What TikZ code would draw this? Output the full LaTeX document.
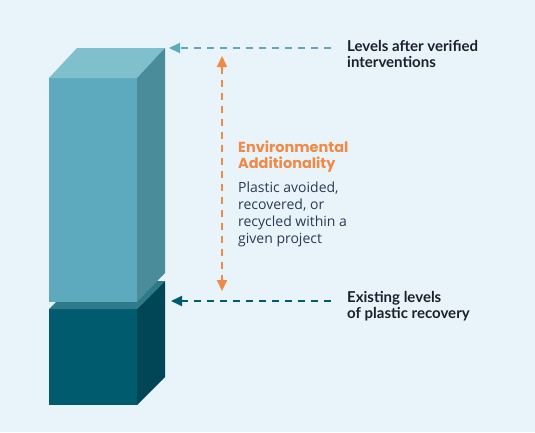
\documentclass[tikz,border=0pt]{standalone}
\usepackage{fontspec}
\setmainfont{Lato}
\newfontfamily\headfont{Poppins}
\newfontfamily\bodyfont{Open Sans}
\usetikzlibrary{arrows.meta}
\definecolor{bgblue}{HTML}{E8F4FA}
\definecolor{upfront}{HTML}{5DAABF}
\definecolor{uptop}{HTML}{80BFCC}
\definecolor{upside}{HTML}{4A8C99}
\definecolor{lowfront}{HTML}{005B6E}
\definecolor{lowtop}{HTML}{2E7A88}
\definecolor{lowside}{HTML}{004656}
\definecolor{addorange}{HTML}{F08A46}
\definecolor{labeltext}{HTML}{1B1F2E}
\definecolor{bodytext}{HTML}{2B3A55}

\begin{document}
\begin{tikzpicture}[x=1pt,y=-1pt,
  marker/.style={line width=2pt, dash pattern=on 7pt off 6pt,
    -{Triangle[length=11pt,width=10pt]}},
  label/.style={anchor=base west, align=left, inner sep=0pt,
    font=\fontsize{15}{15.6}\selectfont\bfseries, text=labeltext}]
\path[use as bounding box, fill=bgblue] (0,0) rectangle (535,432);
% existing levels (lower block)
\fill[lowfront] (49,309) rectangle (137,405);
\fill[lowtop] (49,309) -- (77,281) -- (165,281) -- (137,309) -- cycle;
\fill[lowside] (137,309) -- (165,281) -- (165,377) -- (137,405) -- cycle;
% levels after interventions (upper block)
\fill[upfront] (49,78) rectangle (137,302);
\fill[uptop] (49,78) -- (77,48) -- (165,48) -- (137,78) -- cycle;
\fill[upside] (137,78) -- (165,48) -- (165,273) -- (137,302) -- cycle;

\coordinate (uptip) at (169,48);
\coordinate (uptail) at (331,48);
\coordinate (lowtip) at (171,301);
\coordinate (lowtail) at (331,301);
\coordinate (addtop) at (222,56);
\coordinate (addbot) at (222,291);

% base anchor sits on the last line
\node[label] (after) at (347,67.5) {Levels after verified\\interventions};
\node[label] (existing) at (347,318) {Existing levels\\of plastic recovery};
\node[anchor=base west, align=left, inner sep=0pt, text=addorange,
  font=\headfont\fontsize{14.5}{16}\selectfont\bfseries] (head) at (238,168)
  {Environmental\\Additionality};
\node[anchor=base west, align=left, inner sep=0pt, text=bodytext,
  font=\bodyfont\fontsize{14}{17}\selectfont] (body) at (238,243.3)
  {Plastic avoided,\\recovered, or\\recycled within a\\given project};

\draw[marker, upfront] (uptail) -- (uptip);
\draw[marker, lowfront] (lowtail) -- (lowtip);
\draw[marker, addorange, {Triangle[length=11pt,width=10pt]}-{Triangle[length=11pt,width=10pt]}]
  (addtop) -- (addbot);
\end{tikzpicture}
\end{document}
